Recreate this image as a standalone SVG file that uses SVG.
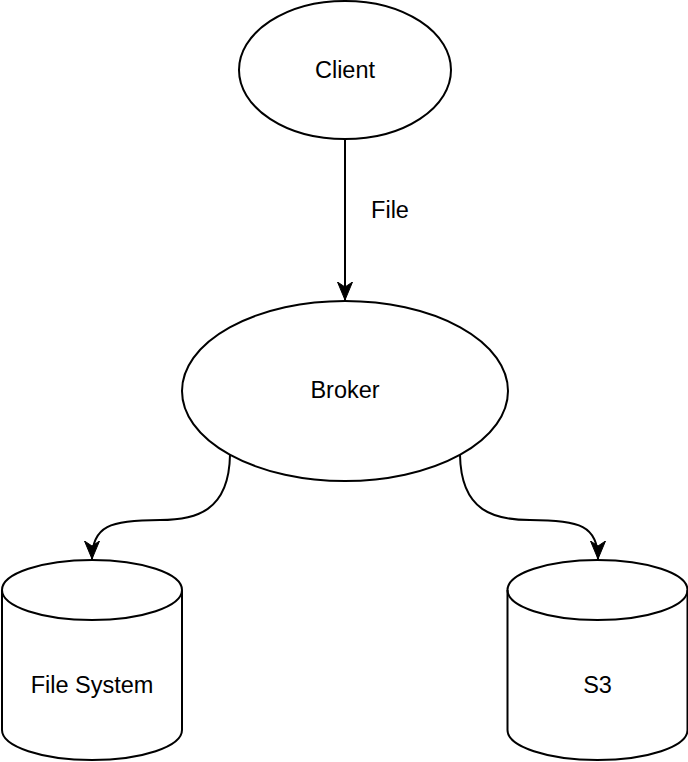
<svg xmlns="http://www.w3.org/2000/svg" width="688" height="762" viewBox="0 0 688 762">
<style>
.shape{fill:#ffffff;stroke:#000000;stroke-width:2}
.edge{fill:none;stroke:#000000;stroke-width:2}
text{font-family:"Liberation Sans",Arial,Helvetica,sans-serif;font-size:23.5px;fill:#000000;text-anchor:middle}
</style>
<defs>
<marker id="arrow" viewBox="0 -9 20 18" refX="18" refY="0" markerWidth="20" markerHeight="18" markerUnits="userSpaceOnUse" orient="auto">
<path d="M18,0 L0,-7.5 L5,0 L0,7.5 Z" fill="#000000" stroke="#000000" stroke-width="1"/>
</marker>
</defs>
<g id="connectors">
<path class="edge" d="M345,140 L345,300" marker-end="url(#arrow)"/>
<text x="390" y="218">File</text>
<path class="edge" d="M230,455 C229,512 195,520 160,520 C110,520 92,526 92,559" marker-end="url(#arrow)"/>
<path class="edge" d="M460,455 C461,512 495,520 530,520 C580,520 598,526 598,559" marker-end="url(#arrow)"/>
</g>
<g id="client">
<ellipse class="shape" cx="345" cy="70" rx="106" ry="69"/>
<text x="345" y="78">Client</text>
</g>
<g id="broker">
<ellipse class="shape" cx="345" cy="391" rx="163" ry="90"/>
<text x="345" y="398">Broker</text>
</g>
<g id="filesystem">
<path class="shape" d="M2,590 A90,30 0 0 1 182,590 L182,730 A90,30 0 0 1 2,730 Z"/>
<path class="edge" d="M2,590 A90,30 0 0 0 182,590"/>
<text x="92" y="693">File System</text>
</g>
<g id="s3">
<path class="shape" d="M507.5,590 A90,30 0 0 1 687.5,590 L687.5,730 A90,30 0 0 1 507.5,730 Z"/>
<path class="edge" d="M507.5,590 A90,30 0 0 0 687.5,590"/>
<text x="597.5" y="693">S3</text>
</g>
</svg>
